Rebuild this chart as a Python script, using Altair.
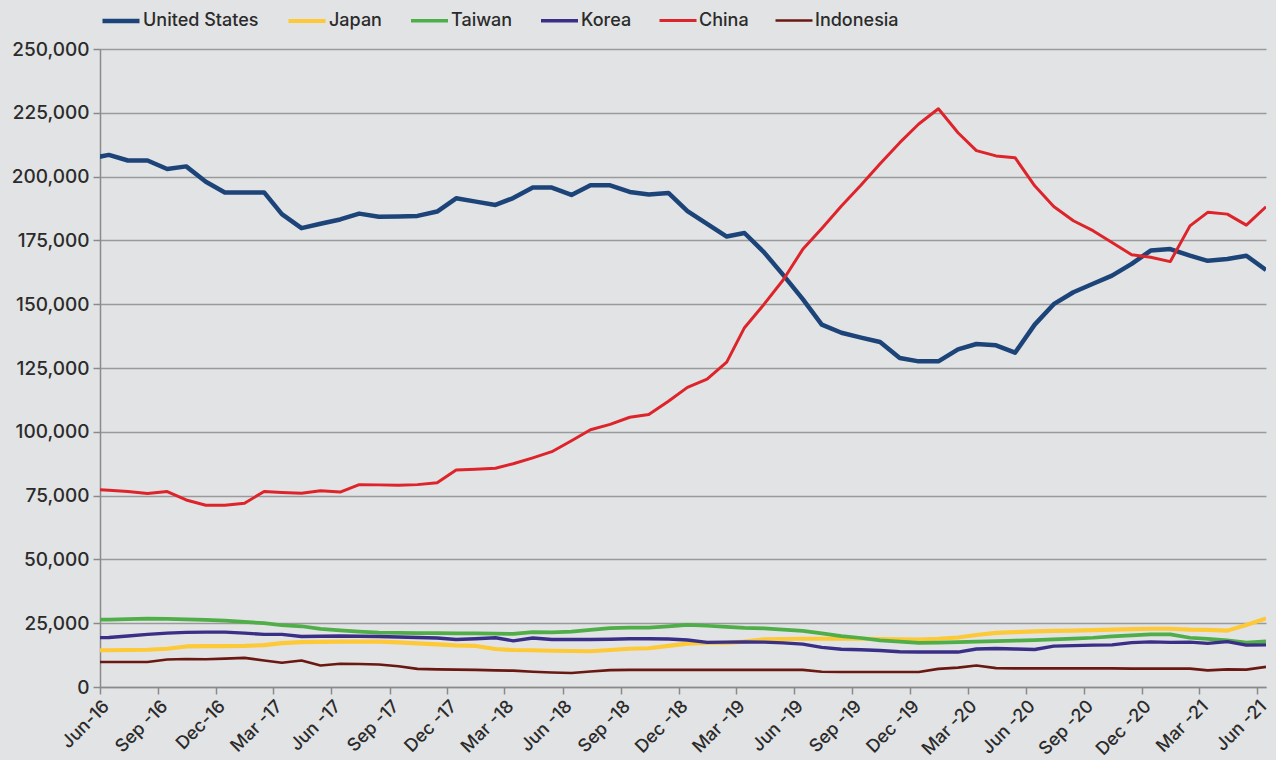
import altair as alt
import pandas as pd

countries = ["United States", "Japan", "Taiwan", "Korea", "China", "Indonesia"]
colors = ["#1d4479", "#fec936", "#4fae48", "#3a2f86", "#de242b", "#6a1812"]
widths = [4.5, 2.6, 2.6, 2.6, 2.6, 2.6]

# monthly values, May-2016 (lead-in, clipped at axis) then Jun-2016 .. Jun-2021
months = pd.date_range("2016-05-01", periods=62, freq="MS") + pd.Timedelta(days=14)

us = [207.0, 208.5, 206.3, 206.3, 203.0, 204.0, 198.0, 193.8, 193.8, 193.8, 185.3,
      179.8, 181.5, 183.2, 185.5, 184.3, 184.4, 184.6, 186.3, 191.5, 190.2,
      188.9, 191.6, 195.7, 195.7, 192.8, 196.6, 196.6, 194.0, 193.0, 193.6,
      186.5, 181.5, 176.5, 177.9, 170.3, 161.5, 152.0, 142.0, 138.8, 136.9,
      135.2, 128.9, 127.6, 127.6, 132.3, 134.4, 133.9, 131.0, 142.0, 150.0,
      154.7, 158.0, 161.2, 165.8, 171.0, 171.6, 169.0, 167.0, 167.7, 169.0, 163.4]
japan = [14.4, 14.4, 14.5, 14.6, 15.0, 15.9, 16.0, 16.0, 16.1, 16.4, 17.2,
         17.6, 17.7, 17.8, 17.8, 17.8, 17.5, 17.1, 16.7, 16.3, 16.1,
         14.9, 14.5, 14.4, 14.2, 14.1, 14.0, 14.5, 15.0, 15.2, 16.1,
         17.0, 17.3, 17.3, 17.8, 18.7, 18.8, 18.9, 18.9, 18.9, 18.9,
         18.8, 18.7, 18.6, 18.9, 19.4, 20.4, 21.2, 21.5, 21.8, 22.0,
         22.1, 22.3, 22.5, 22.7, 22.8, 22.8, 22.5, 22.4, 22.1, 24.3, 26.9]
taiwan = [26.3, 26.4, 26.6, 26.8, 26.7, 26.5, 26.3, 26.0, 25.5, 25.0, 24.2,
          23.8, 22.8, 22.2, 21.7, 21.3, 21.2, 21.1, 21.1, 21.0, 21.0,
          20.9, 20.8, 21.5, 21.4, 21.7, 22.4, 23.1, 23.3, 23.3, 23.8,
          24.3, 24.0, 23.6, 23.2, 23.0, 22.5, 22.0, 21.0, 19.9, 19.2,
          18.3, 17.8, 17.3, 17.4, 17.6, 17.8, 18.0, 18.2, 18.4, 18.7,
          19.0, 19.3, 19.8, 20.2, 20.6, 20.6, 19.3, 18.9, 18.3, 17.4, 17.9]
korea = [19.3, 19.4, 20.0, 20.6, 21.1, 21.4, 21.5, 21.5, 21.1, 20.6, 20.6,
         19.8, 19.9, 20.0, 19.9, 19.8, 19.6, 19.4, 19.2, 18.6, 18.9,
         19.3, 18.1, 19.2, 18.6, 18.6, 18.6, 18.7, 18.9, 18.9, 18.8,
         18.4, 17.5, 17.6, 17.7, 17.6, 17.3, 16.8, 15.5, 14.8, 14.6,
         14.3, 13.8, 13.7, 13.7, 13.7, 14.9, 15.1, 14.9, 14.7, 16.0,
         16.2, 16.4, 16.5, 17.4, 17.7, 17.5, 17.6, 17.1, 17.8, 16.4, 16.5]
china = [77.5, 77.1, 76.6, 75.8, 76.6, 73.3, 71.2, 71.2, 72.0, 76.6, 76.2,
         75.9, 76.9, 76.4, 79.3, 79.2, 79.1, 79.3, 80.0, 85.0, 85.3,
         85.7, 87.5, 89.8, 92.2, 96.5, 100.8, 102.9, 105.7, 106.8, 112.0,
         117.4, 120.6, 127.3, 140.8, 150.0, 159.5, 171.5, 179.7, 188.5, 196.7,
         205.0, 213.3, 220.6, 226.6, 217.2, 210.2, 208.1, 207.4, 196.4, 188.3,
         182.7, 178.8, 174.2, 169.4, 168.4, 166.7, 180.7, 186.0, 185.3, 181.0, 188.2]
indonesia = [9.8, 9.8, 9.8, 9.8, 10.8, 11.0, 10.9, 11.1, 11.4, 10.4, 9.5,
             10.4, 8.4, 9.1, 9.0, 8.8, 8.1, 7.1, 6.9, 6.8, 6.7,
             6.5, 6.4, 6.0, 5.7, 5.5, 6.1, 6.6, 6.7, 6.7, 6.7,
             6.7, 6.7, 6.7, 6.7, 6.7, 6.7, 6.7, 6.0, 5.9, 5.9,
             5.9, 5.9, 5.9, 7.1, 7.6, 8.4, 7.4, 7.3, 7.3, 7.3,
             7.3, 7.3, 7.3, 7.2, 7.2, 7.2, 7.2, 6.5, 6.9, 6.8, 7.9]

tick_labels = ["Jun-16", "Sep -16", "Dec-16", "Mar -17", "Jun -17", "Sep -17",
               "Dec -17", "Mar -18", "Jun -18", "Sep -18", "Dec -18", "Mar -19",
               "Jun -19", "Sep -19", "Dec -19", "Mar -20", "Jun -20", "Sep -20",
               "Dec -20", "Mar -21", "Jun -21"]

series = [us, japan, taiwan, korea, china, indonesia]
rows = []
for name, vals in zip(countries, series):
    for d, v in zip(months, vals):
        rows.append({"date": d.strftime("%Y-%m-%d"), "country": name, "value": v * 1000})
df = pd.DataFrame(rows)

tick_dates = [alt.DateTime(year=2016 + (5 + 3 * k) // 12, month=(5 + 3 * k) % 12 + 1, date=1, utc=True)
              for k in range(len(tick_labels))]
label_array = "[" + ",".join("'" + t + "'" for t in tick_labels) + "]"
label_expr = label_array + "[round((utcyear(datum.value)-2016)*4 + (utcmonth(datum.value)-5)/3)]"

FONT = "Inter"
TXT = "#2b2b2b"

chart = alt.Chart(df).mark_line(clip=True, strokeJoin="round").encode(
    x=alt.X("date:T",
            scale=alt.Scale(type="utc",
                            domain=[alt.DateTime(year=2016, month=6, date=1, utc=True),
                                    alt.DateTime(year=2021, month=6, date=15, utc=True)]),
            axis=alt.Axis(values=tick_dates, labelExpr=label_expr, title=None, grid=False,
                          labelAngle=-45, labelAlign="right", labelBaseline="top",
                          labelFontSize=18, labelFontWeight=500, labelColor=TXT,
                          labelFont=FONT, tickColor="#8a8a8a", tickSize=7, tickWidth=1.5,
                          domainColor="#8a8a8a", domainWidth=1.5, labelPadding=3,
                          labelOverlap=False)),
    y=alt.Y("value:Q",
            scale=alt.Scale(domain=[0, 250000], nice=False),
            axis=alt.Axis(values=list(range(0, 250001, 25000)), format=",d", title=None,
                          labelFontSize=19, labelFontWeight=500, labelColor=TXT, labelFont=FONT,
                          gridColor="#9a9a9a", gridWidth=1.5, tickColor="#8a8a8a",
                          tickSize=7, tickWidth=1.5, domainColor="#8a8a8a",
                          domainWidth=1.5, labelPadding=4)),
    color=alt.Color("country:N",
                    scale=alt.Scale(domain=countries, range=colors),
                    legend=alt.Legend(title=None, orient="none", legendX=0, legendY=-49,
                                      direction="horizontal", symbolType="stroke",
                                      symbolStrokeWidth=5, symbolSize=1369,
                                      labelFontSize=18, labelFont=FONT, labelFontWeight=500,
                                      labelColor=TXT, columnPadding=21,
                                      labelOffset=1)),
    strokeWidth=alt.StrokeWidth("country:N",
                                scale=alt.Scale(domain=countries, range=widths),
                                legend=None),
    detail="country:N",
).properties(
    width=1166, height=638,
    autosize=alt.AutoSizeParams(type="none"),
    padding={"left": 100, "top": 49, "right": 10, "bottom": 73},
    background="#e2e3e5",
).configure_view(stroke=None)

chart.save("out.html", embed_options={"renderer": "svg", "actions": False})
